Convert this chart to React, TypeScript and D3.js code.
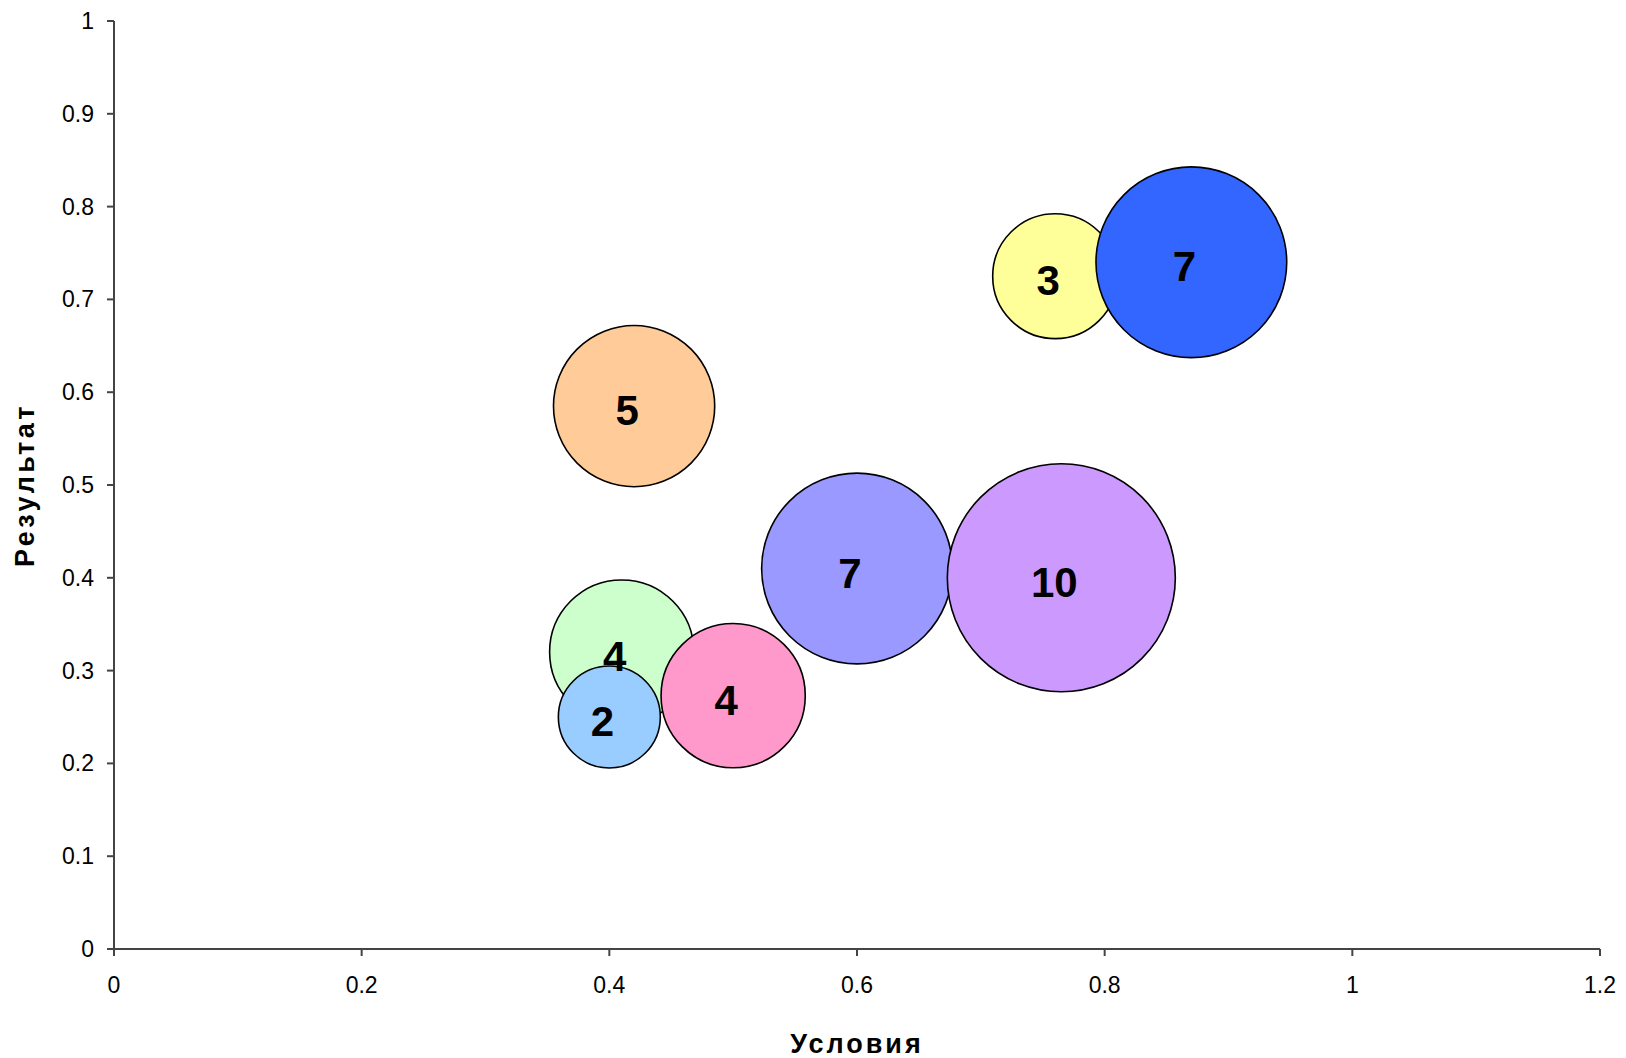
import React from "react";
import * as d3 from "d3";

const conditions = [0.42, 0.41, 0.4, 0.5, 0.6, 0.765, 0.76, 0.87];
const results = [0.585, 0.32, 0.25, 0.273, 0.41, 0.4, 0.725, 0.74];
const sizes = [5, 4, 2, 4, 7, 10, 3, 7];
const colors = ["#FFCC99", "#CCFFCC", "#99CCFF", "#FF99CC", "#9999FF", "#CC99FF", "#FFFF99", "#3366FF"];
const xTicks = [0, 0.2, 0.4, 0.6, 0.8, 1, 1.2];
const yTicks = [0, 0.1, 0.2, 0.3, 0.4, 0.5, 0.6, 0.7, 0.8, 0.9, 1];
const xTitle = "Условия";
const yTitle = "Результат";

const W = 1626;
const H = 1058;
const left = 114;
const right = 1600;
const top = 21;
const bottom = 949;

export default function App() {
  const x = d3.scaleLinear().domain([0, 1.2]).range([left, right]);
  const y = d3.scaleLinear().domain([0, 1]).range([bottom, top]);
  const r = d3.scaleSqrt().domain([0, 10]).range([0, 114]);
  const axisColor = "#444";
  const font = "'Liberation Sans', Arial, sans-serif";
  const pts = conditions.map((c, i) => ({ c, v: results[i], s: sizes[i], col: colors[i] }));

  return (
    <svg width={W} height={H} style={{ position: "absolute", left: 0, top: 0, background: "#fff" }} fontFamily={font}>
      <rect x={0} y={0} width={W} height={H} fill="#fff" />
      {/* bubbles */}
      {pts.map((p, i) => (
        <circle key={"b" + i} cx={x(p.c)} cy={y(p.v)} r={r(p.s)} fill={p.col} stroke="#000" strokeWidth={1.6} />
      ))}
      {/* labels */}
      {pts.map((p, i) => (
        <text key={"l" + i} x={x(p.c) - 7} y={y(p.v) + 4 + 15} textAnchor="middle" fontSize={42} fontWeight="bold" fill="#000">
          {p.s}
        </text>
      ))}
      {/* axes */}
      <line x1={left} y1={top} x2={left} y2={bottom + 7} stroke={axisColor} strokeWidth={2} />
      <line x1={left - 7} y1={bottom} x2={right} y2={bottom} stroke={axisColor} strokeWidth={2} />
      {yTicks.map((t) => (
        <g key={"y" + t}>
          <line x1={left - 7} x2={left} y1={y(t)} y2={y(t)} stroke={axisColor} strokeWidth={2} />
          <text x={left - 20} y={y(t) + 8} textAnchor="end" fontSize={23} fill="#000">
            {t}
          </text>
        </g>
      ))}
      {xTicks.map((t) => (
        <g key={"x" + t}>
          <line x1={x(t)} x2={x(t)} y1={bottom} y2={bottom + 7} stroke={axisColor} strokeWidth={2} />
          <text x={x(t)} y={993} textAnchor="middle" fontSize={23} fill="#000">
            {t}
          </text>
        </g>
      ))}
      <text x={(left + right) / 2} y={1053} textAnchor="middle" fontSize={27} fontWeight="bold" letterSpacing={3} fill="#000">
        {xTitle}
      </text>
      <text
        transform={`translate(34, ${(top + bottom) / 2}) rotate(-90)`}
        textAnchor="middle"
        fontSize={27}
        fontWeight="bold"
        letterSpacing={3.5}
        fill="#000"
      >
        {yTitle}
      </text>
    </svg>
  );
}
